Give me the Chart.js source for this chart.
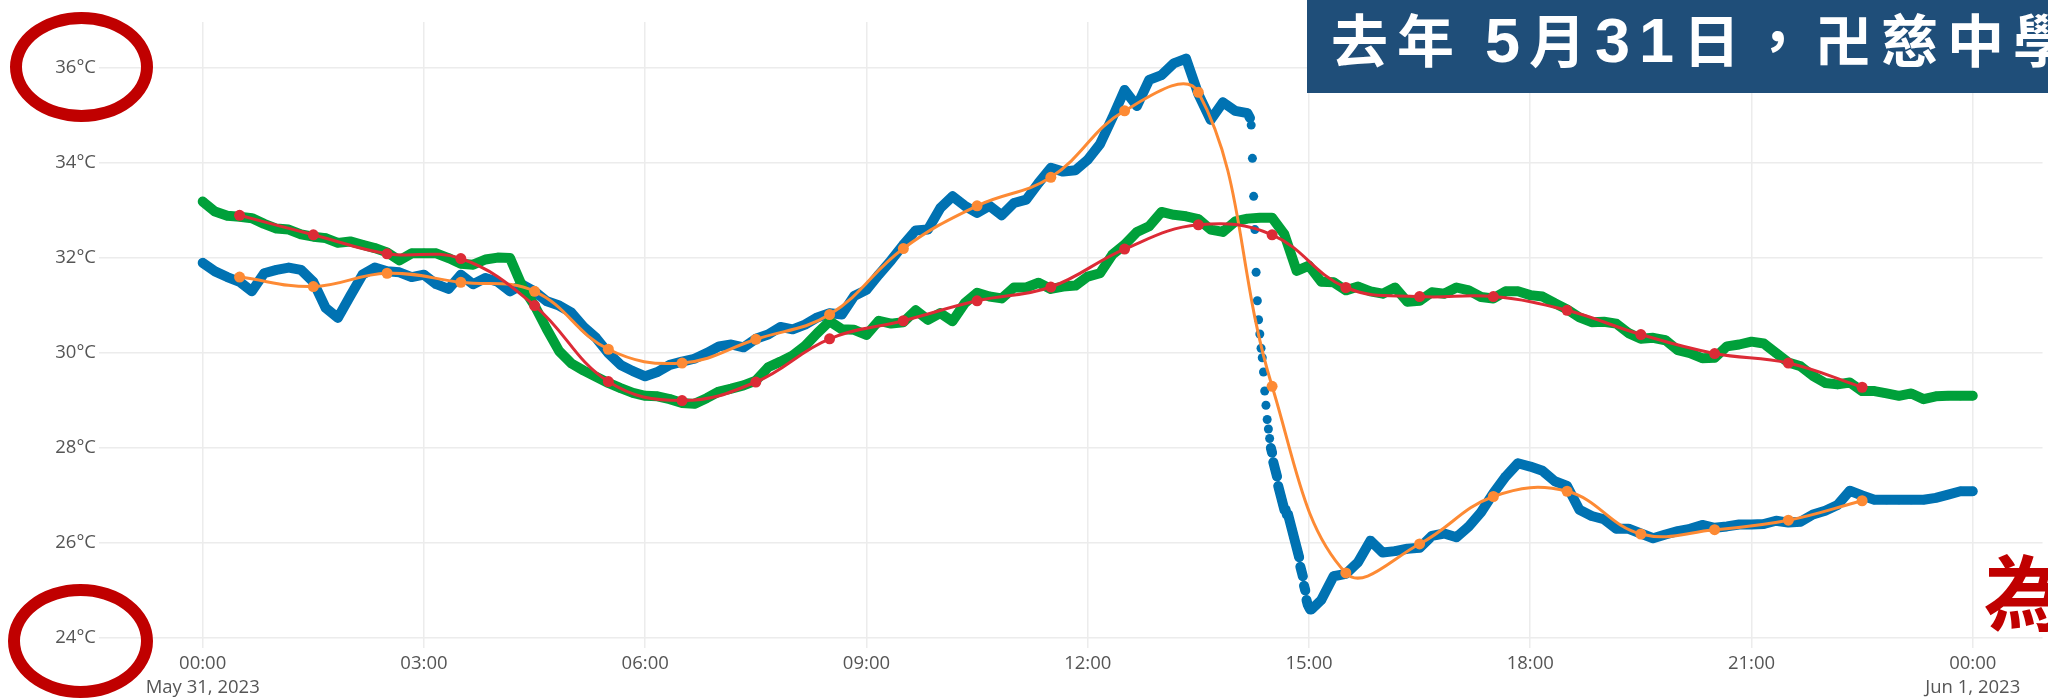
<!DOCTYPE html>
<html>
<head>
<meta charset="utf-8">
<title>Temperature, May 31 2023</title>
<script src="https://cdn.jsdelivr.net/npm/chart.js@4.4.0/dist/chart.umd.min.js"></script>
<style>
  html, body { margin: 0; padding: 0; background: #fff; }
  #wrap { position: relative; width: 2048px; height: 698px; overflow: hidden; }
  #chart { position: absolute; left: 0; top: 0; }
  .banner { position: absolute; left: 1307px; top: 0; width: 741px; height: 93px; background: #1f4e79; overflow: hidden; }
  .banner span { position: absolute; left: 24px; top: 9px; font: bold 57px/1 "Noto Sans CJK TC"; letter-spacing: 9px; color: #fff; white-space: nowrap; }
  .banner b { font: bold 63px "Liberation Sans"; line-height: 0; }
  .ring { position: absolute; border: 12px solid #c00000; border-radius: 50%; box-sizing: border-box; }
  .mark { position: absolute; left: 1984px; top: 548px; font: bold 82px/1 "Noto Sans CJK TC"; color: #c00000; white-space: nowrap; }
</style>
</head>
<body>
<div id="wrap">
  <canvas id="chart" width="2048" height="698"></canvas>
  <div class="banner"><span>去年 <b>5</b>月<b>31</b>日，卍慈中學</span></div>
  <div class="ring" style="left:10px;top:12px;width:143px;height:110px;"></div>
  <div class="ring" style="left:8px;top:584px;width:145px;height:114px;"></div>
  <div class="mark">為</div>
</div>
<script>
// axis ticks
const tickHours = [0, 3, 6, 9, 12, 15, 18, 21, 24];
const tickTimes = ['00:00', '03:00', '06:00', '09:00', '12:00', '15:00', '18:00', '21:00', '00:00'];
const tickDates = ['May 31, 2023', '', '', '', '', '', '', '', 'Jun 1, 2023'];
const tempTicks = [24, 26, 28, 30, 32, 34, 36];

// blue sensor, every 10 min from 00:00 (null = covered by blueDrop)
const blueTemps = [
  31.9, 31.72, 31.6, 31.5, 31.3, 31.68,
  31.75, 31.8, 31.75, 31.5, 30.95, 30.74,
  31.2, 31.65, 31.8, 31.72, 31.7, 31.6,
  31.65, 31.45, 31.35, 31.65, 31.45, 31.58,
  31.5, 31.3, 31.44, 31.3, 31.09, 31.0,
  30.85, 30.55, 30.32, 30.0, 29.75, 29.62,
  29.51, 29.6, 29.75, 29.82, 29.88, 30.0,
  30.14, 30.18, 30.12, 30.3, 30.39, 30.55,
  30.5, 30.6, 30.75, 30.84, 30.81, 31.2,
  31.33, 31.65, 31.95, 32.28, 32.58, 32.6,
  33.05, 33.3, 33.1, 32.95, 33.1, 32.9,
  33.16, 33.23, 33.58, 33.9, 33.82, 33.85,
  34.07, 34.4, 34.95, 35.54, 35.2, 35.75,
  35.85, 36.1, 36.2, 35.45, 34.91, 35.28,
  35.1, 35.05, null, null, null, null,
  null, 24.8, 25.3, 25.35, 25.6, 26.05,
  25.8, 25.83, 25.88, 25.9, 26.15, 26.2,
  26.12, 26.35, 26.65, 27.05, 27.4, 27.68,
  27.61, 27.52, 27.3, 27.2, 26.7, 26.57,
  26.5, 26.3, 26.3, 26.2, 26.1, 26.18,
  26.25, 26.3, 26.38, 26.32, 26.35, 26.39,
  26.39, 26.4, 26.47, 26.43, 26.45, 26.6,
  26.68, 26.8, 27.1, 27.0, 26.91, 26.91,
  26.91, 26.91, 26.91, 26.95, 27.02, 27.09,
  27.09
];

// blue sensor, every minute from 14:12 to 15:02 (the sudden drop)
const blueDrop = [
  34.95, 34.8, 34.1, 33.3, 32.6, 31.7, 31.1, 30.7, 30.4, 30.1,
  29.9, 29.6, 29.2, 28.9, 28.6, 28.4, 28.2, 28.0, 27.9, 27.7,
  27.6, 27.5, 27.4, 27.2, 27.1, 27.0, 26.9, 26.8, 26.7, 26.7,
  26.6, 26.6, 26.5, 26.4, 26.3, 26.2, 26.1, 26.0, 25.9, 25.8,
  25.7, 25.5, 25.4, 25.3, 25.1, 25.0, 24.8, 24.7, 24.65, 24.6,
  24.6
];

// green sensor, every 10 min from 00:00
const greenTemps = [
  33.19, 32.98, 32.89, 32.87, 32.84, 32.72,
  32.62, 32.6, 32.5, 32.45, 32.42, 32.32,
  32.35, 32.28, 32.21, 32.12, 31.95, 32.1,
  32.1, 32.1, 32.0, 31.88, 31.86, 31.97,
  32.01, 32.0, 31.4, 31.0, 30.5, 30.04,
  29.78, 29.63, 29.5, 29.37, 29.26, 29.16,
  29.1, 29.09, 29.03, 28.95, 28.93, 29.05,
  29.19, 29.25, 29.32, 29.42, 29.7, 29.82,
  29.95, 30.15, 30.42, 30.67, 30.5, 30.49,
  30.38, 30.68, 30.62, 30.65, 30.9, 30.7,
  30.84, 30.67, 31.05, 31.27, 31.19, 31.15,
  31.38, 31.38, 31.48, 31.35, 31.4, 31.42,
  31.61, 31.68, 32.07, 32.28, 32.55, 32.67,
  32.97, 32.91, 32.88, 32.82, 32.6, 32.55,
  32.77, 32.83, 32.85, 32.85, 32.5, 31.73,
  31.84, 31.5, 31.49, 31.32, 31.4, 31.3,
  31.25, 31.38, 31.08, 31.1, 31.28, 31.25,
  31.38, 31.32, 31.18, 31.15, 31.3, 31.3,
  31.22, 31.19, 31.05, 30.92, 30.75, 30.65,
  30.66, 30.62, 30.42, 30.3, 30.32, 30.27,
  30.06, 30.0, 29.89, 29.9, 30.14, 30.18,
  30.24, 30.2, 30.0, 29.8, 29.72, 29.52,
  29.37, 29.34, 29.38, 29.2, 29.2, 29.15,
  29.1, 29.15, 29.03, 29.09, 29.1, 29.1,
  29.1
];

// hourly means, plotted at the half hour
const meanHours = [0.5, 1.5, 2.5, 3.5, 4.5, 5.5, 6.5, 7.5, 8.5, 9.5, 10.5, 11.5,
  12.5, 13.5, 14.5, 15.5, 16.5, 17.5, 18.5, 19.5, 20.5, 21.5, 22.5];
const blueMean = [31.6, 31.4, 31.68, 31.49, 31.3, 30.08, 29.79, 30.29, 30.81, 32.2, 33.1, 33.7,
  35.1, 35.49, 29.3, 25.37, 25.98, 26.98, 27.09, 26.19, 26.28, 26.48, 26.89];
const greenMean = [32.9, 32.49, 32.09, 31.99, 31.0, 29.4, 29.0, 29.39, 30.3, 30.68, 31.1, 31.39,
  32.19, 32.7, 32.49, 31.38, 31.19, 31.19, 30.9, 30.39, 29.99, 29.79, 29.28];

// Build {x, y} points, x in hours
function toPoints(temps, startMin, stepMin) {
    return temps
        .map((t, i) => ({ x: (startMin + i * stepMin) / 60, y: t }))
        .filter(p => p.y !== null);
}

const bluePoints = toPoints(blueTemps, 0, 10)
    .concat(toPoints(blueDrop, 14 * 60 + 12, 1))
    .sort((a, b) => a.x - b.x);
const greenPoints = toPoints(greenTemps, 0, 10);

const BLUE = '#0072b2';
const GREEN = '#00a03a';
const ORANGE = '#fd8a34';
const RED = '#dc2b36';

// fast falls are drawn as separate dots, like the raw readings
function gapSteep(ctx) {
    const dx = ctx.p1.x - ctx.p0.x;
    const dy = Math.abs(ctx.p1.y - ctx.p0.y);
    return (dx < 3 && dy > 6) ? 'transparent' : undefined;
}

function dotSeries(points, color, order) {
    return {
        data: points,
        order: order,
        borderColor: color,
        backgroundColor: color,
        borderWidth: 10,
        borderJoinStyle: 'round',
        borderCapStyle: 'round',
        pointRadius: 4.5,
        pointBorderWidth: 0,
        pointHoverRadius: 4.5,
        tension: 0,
        segment: { borderColor: gapSteep }
    };
}

function meanSeries(values, color, order) {
    return {
        data: meanHours.map((h, i) => ({ x: h, y: values[i] })),
        order: order,
        borderColor: color,
        backgroundColor: color,
        borderWidth: 3,
        pointRadius: 5.5,
        pointBorderWidth: 0,
        pointHoverRadius: 5.5,
        tension: 0.4
    };
}

const gridStyle = { color: '#ececec', lineWidth: 1.5, drawTicks: false };
const tickFont = { family: 'Open Sans', size: 18.5, lineHeight: 1.3 };

new Chart(document.getElementById('chart').getContext('2d'), {
    type: 'line',
    data: {
        datasets: [
            meanSeries(greenMean, RED, 0),
            meanSeries(blueMean, ORANGE, 1),
            dotSeries(greenPoints, GREEN, 2),
            dotSeries(bluePoints, BLUE, 3)
        ]
    },
    options: {
        responsive: false,
        animation: false,
        layout: { padding: { top: 22, left: 0, right: 0, bottom: 0 } },
        plugins: { legend: { display: false }, tooltip: { enabled: false } },
        scales: {
            x: {
                type: 'linear',
                min: -1.406,
                max: 24.946,
                afterBuildTicks: s => { s.ticks = tickHours.map(v => ({ value: v })); },
                afterFit: s => { s.height = 50; },
                grid: gridStyle,
                border: { display: false },
                ticks: {
                    color: '#555',
                    font: tickFont,
                    padding: 4,
                    maxRotation: 0,
                    autoSkip: false,
                    callback: v => {
                        const i = tickHours.indexOf(v);
                        return tickDates[i] ? [tickTimes[i], tickDates[i]] : tickTimes[i];
                    }
                }
            },
            y: {
                min: 23.79,
                max: 36.97,
                afterBuildTicks: s => { s.ticks = tempTicks.map(v => ({ value: v })); },
                afterFit: s => { s.width = 99; },
                grid: gridStyle,
                border: { display: false },
                ticks: {
                    color: '#555',
                    font: tickFont,
                    padding: 3,
                    callback: v => v + '°C'
                }
            }
        }
    }
});
</script>
</body>
</html>
